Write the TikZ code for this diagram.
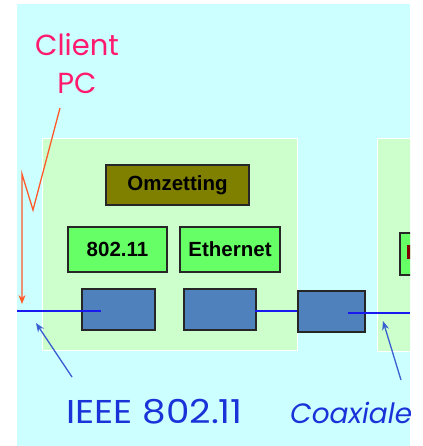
\documentclass[tikz,border=0pt]{standalone}
\usepackage{fontspec}
\setmainfont{Liberation Sans}
\newfontfamily\comicfont{Poppins}
\usetikzlibrary{arrows.meta,calc}
\definecolor{bgcyan}{HTML}{CCFFFF}
\definecolor{panelgreen}{HTML}{CCFFCC}
\definecolor{olivebox}{HTML}{808000}
\definecolor{brightgreen}{HTML}{66FF66}
\definecolor{portblue}{HTML}{4F81BD}
\definecolor{wireblue}{HTML}{1A1AF0}
\definecolor{arrowblue}{HTML}{3A5FD0}
\definecolor{redline}{HTML}{FF5A2A}
\definecolor{pinktext}{HTML}{FF1A6E}
\definecolor{bluetext}{HTML}{1A33D9}
\definecolor{darkredtext}{HTML}{800000}
\tikzset{
  panel/.style={fill=panelgreen, draw=white, line width=1pt},
  labelbox/.style={draw=black!85, line width=1.2pt, inner sep=0pt, font=\bfseries\fontsize{20.5}{22}\selectfont},
  portbox/.style={fill=portblue, draw=black!85, line width=1.2pt},
  wire/.style={wireblue, line width=1.2pt},
  callout/.style={arrowblue, line width=1.3pt, -{Stealth[length=9pt,width=7pt]}},
}
\begin{document}
\begin{tikzpicture}[x=1pt,y=-1pt]
\useasboundingbox (0,0) rectangle (422,446);
\fill[white] (0,0) rectangle (422,446);
\begin{scope}
\clip (17,4) rectangle (410,446);
\fill[bgcyan] (17,4) rectangle (410,446);
% panels
\draw[panel] (42,139) rectangle (297,350);
\draw[panel] (377,139) rectangle (430,351);
% label boxes
\node[labelbox, fill=olivebox, minimum width=143pt, minimum height=40pt] (omz) at (177.5,185) {Omzetting};
\node[labelbox, fill=brightgreen, minimum width=99pt, minimum height=45pt] (wifi) at (117.5,249.5) {802.11};
\node[labelbox, fill=brightgreen, minimum width=100pt, minimum height=45pt] (eth) at (230,249.5) {Ethernet};
\draw[labelbox, fill=brightgreen] (400,233) rectangle (440,275);
\fill[darkredtext] (407,245) rectangle (411,259);
% wires
\coordinate (leftend) at (17,311);
\coordinate (rightend) at (410,313);
\node[portbox, minimum width=73pt, minimum height=41pt, inner sep=0pt] (p1) at (118.5,309.5) {};
\node[portbox, minimum width=72pt, minimum height=41pt, inner sep=0pt] (p2) at (220,309.5) {};
\node[portbox, minimum width=67pt, minimum height=41pt, inner sep=0pt] (p3) at (331.5,311.5) {};
\draw[wire] (leftend) -- ($(p1.center)+(-18,1.5)$);
\draw[wire] ($(p2.east)+(-2,1.5)$) -- ($(p3.west)+(0,-0.5)$);
\draw[wire] ($(p3.center)+(16,1.5)$) -- (rightend);
% client PC label and red line
\node[text=pinktext, font=\comicfont\fontsize{29}{38}\selectfont, align=center] (client) at (77,64) {Client\\PC};
\coordinate (r0) at (60,108);
\coordinate (r1) at (33,210);
\coordinate (r2) at (22,174);
\coordinate (r3) at (22,304);
\draw[redline, line width=1.3pt, -{Stealth[length=9pt,width=7pt]}] (r0) -- (r1) -- (r2) -- (r3);
% bottom labels
\node[text=bluetext, font=\comicfont\fontsize{33}{36}\selectfont, anchor=base west, inner sep=0pt, xscale=1.13] (ieee) at (66,423) {IEEE 802.11};
\node[text=bluetext, font=\comicfont\itshape\fontsize{28}{30}\selectfont, anchor=base west, inner sep=0pt] (coax) at (290,423) {Coaxiale};
\coordinate (a0) at (72,377);
\coordinate (a1) at (36,323);
\draw[callout] (a0) -- (a1);
\coordinate (b0) at (401,380);
\coordinate (b1) at (383,321);
\draw[callout] (b0) -- (b1);
\end{scope}
\end{tikzpicture}
\end{document}
